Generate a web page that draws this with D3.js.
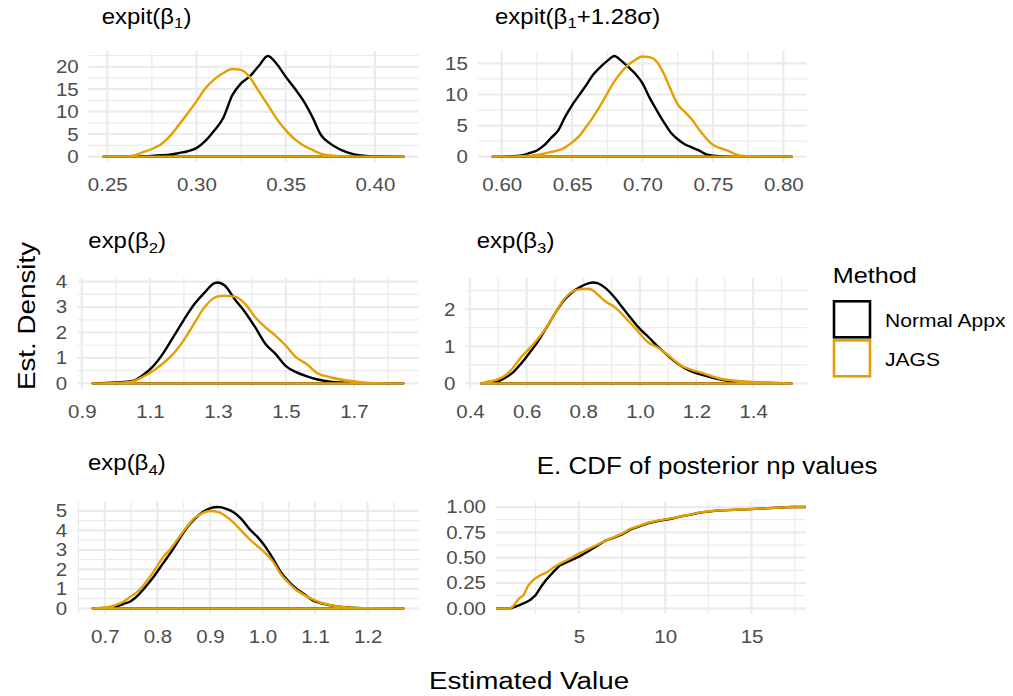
<!DOCTYPE html>
<html>
<head>
<meta charset="utf-8">
<script src="https://cdn.jsdelivr.net/npm/d3@7"></script>
<style>
  body { margin: 0; background: #ffffff; }
  svg { display: block; font-family: "Liberation Sans", Arial, Helvetica, sans-serif; }
</style>
</head>
<body>
<div id="chart"></div>
<script>

// ---- values ----
var method_names  = ['Normal Appx', 'JAGS'];
var method_colors = ['#000000', '#E69F00'];

// expit(beta1)
var b1_x      = [0.248, 0.26, 0.265, 0.27, 0.275, 0.28, 0.285, 0.29, 0.295, 0.30, 0.305, 0.31, 0.315, 0.32, 0.325, 0.33,
                 0.335, 0.34, 0.345, 0.35, 0.355, 0.36, 0.365, 0.37, 0.375, 0.38, 0.385, 0.39, 0.395, 0.40, 0.405, 0.416];
var b1_normal = [0, 0.02, 0.05, 0.1, 0.18, 0.3, 0.45, 0.8, 1.2, 1.9, 3.5, 5.8, 8.6, 13.6, 16.3, 17.9,
                 20.2, 22.4, 20.6, 17.8, 15.2, 12.4, 8.8, 4.7, 2.9, 1.7, 0.9, 0.4, 0.15, 0.06, 0.02, 0];
var b1_jags   = [0, 0.03, 0.3, 1.0, 1.7, 2.7, 4.5, 7.0, 9.6, 12.3, 15.2, 17.2, 18.6, 19.5, 19.3, 17.6,
                 14.5, 11.5, 8.4, 5.9, 3.9, 2.5, 1.5, 0.6, 0.25, 0.1, 0.04, 0.01, 0, 0, 0, 0];
var b1_ticks  = [0.25, 0.30, 0.35, 0.40];
var b1_yticks = [0, 5, 10, 15, 20];

// expit(beta1 + 1.28 sigma)
var b1s_x      = [0.5936, 0.605, 0.615, 0.62, 0.625, 0.63, 0.635, 0.64, 0.645, 0.65, 0.655, 0.66, 0.665, 0.67, 0.675, 0.68,
                  0.685, 0.69, 0.695, 0.70, 0.705, 0.71, 0.715, 0.72, 0.725, 0.73, 0.735, 0.74, 0.745, 0.75, 0.755, 0.76,
                  0.765, 0.77, 0.775, 0.78, 0.79, 0.806];
var b1s_normal = [0, 0.05, 0.25, 0.6, 1.0, 1.8, 3.0, 4.2, 6.4, 8.3, 9.9, 11.5, 13.2, 14.4, 15.4, 16.2,
                  15.4, 14.4, 13.3, 11.8, 9.5, 7.5, 5.6, 3.9, 2.8, 2.0, 1.5, 1.0, 0.4, 0.17, 0.06, 0.02,
                  0.01, 0, 0, 0, 0, 0];
var b1s_jags   = [0, 0.01, 0.07, 0.15, 0.27, 0.5, 0.75, 1.0, 1.5, 2.3, 3.3, 4.8, 6.4, 8.2, 10.2, 12.1,
                  13.6, 14.8, 15.6, 16.1, 16.0, 15.3, 13.4, 10.8, 8.4, 7.2, 6.0, 4.4, 3.0, 1.9, 1.4, 1.0,
                  0.5, 0.15, 0.05, 0.02, 0, 0];
var b1s_ticks  = [0.60, 0.65, 0.70, 0.75, 0.80];
var b1s_yticks = [0, 5, 10, 15];

// exp(beta2)
var b2_x      = [0.932, 1.0, 1.05, 1.08, 1.11, 1.14, 1.17, 1.2, 1.23, 1.26, 1.29, 1.30, 1.32, 1.35,
                 1.38, 1.41, 1.44, 1.47, 1.5, 1.53, 1.56, 1.59, 1.63, 1.67, 1.72, 1.77, 1.845];
var b2_normal = [0, 0.04, 0.1, 0.33, 0.68, 1.2, 1.85, 2.5, 3.1, 3.56, 3.94, 3.97, 3.85, 3.3,
                 2.8, 2.2, 1.55, 1.15, 0.68, 0.44, 0.28, 0.16, 0.07, 0.03, 0.01, 0, 0];
var b2_jags   = [0, 0.02, 0.08, 0.26, 0.5, 0.8, 1.18, 1.7, 2.35, 2.98, 3.37, 3.42, 3.44, 3.41,
                 3.13, 2.6, 2.2, 1.87, 1.48, 1.02, 0.77, 0.42, 0.24, 0.13, 0.05, 0.01, 0];
var b2_ticks  = [0.9, 1.1, 1.3, 1.5, 1.7];
var b2_yticks = [0, 1, 2, 3, 4];

// exp(beta3)
var b3_x      = [0.439, 0.46, 0.49, 0.52, 0.55, 0.58, 0.61, 0.64, 0.67, 0.70, 0.73, 0.76, 0.79, 0.82, 0.835, 0.85, 0.88,
                 0.91, 0.94, 0.97, 1.0, 1.03, 1.06, 1.09, 1.12, 1.15, 1.18, 1.22, 1.28, 1.34, 1.40, 1.46, 1.536];
var b3_normal = [0, 0.01, 0.03, 0.13, 0.28, 0.53, 0.82, 1.13, 1.5, 1.88, 2.22, 2.45, 2.6, 2.7, 2.72, 2.7, 2.56,
                 2.32, 2.03, 1.74, 1.47, 1.25, 1.02, 0.81, 0.61, 0.45, 0.33, 0.23, 0.11, 0.04, 0.02, 0.01, 0];
var b3_jags   = [0, 0.04, 0.09, 0.19, 0.4, 0.7, 0.94, 1.2, 1.51, 1.88, 2.25, 2.47, 2.54, 2.55, 2.5, 2.4, 2.2,
                 2.06, 1.84, 1.6, 1.34, 1.1, 0.98, 0.82, 0.63, 0.46, 0.37, 0.28, 0.13, 0.07, 0.04, 0.02, 0];
var b3_ticks  = [0.4, 0.6, 0.8, 1.0, 1.2, 1.4];
var b3_yticks = [0, 1, 2];

// exp(beta4)
var b4_x      = [0.677, 0.70, 0.71, 0.72, 0.735, 0.75, 0.765, 0.78, 0.795, 0.81, 0.825, 0.84, 0.855, 0.87, 0.885, 0.90, 0.915,
                 0.93, 0.945, 0.96, 0.975, 0.99, 1.005, 1.02, 1.035, 1.05, 1.065, 1.08, 1.095, 1.11, 1.13, 1.16, 1.2, 1.268];
var b4_normal = [0, 0.02, 0.05, 0.1, 0.22, 0.38, 0.72, 1.18, 1.7, 2.28, 2.85, 3.48, 4.1, 4.56, 4.92, 5.13, 5.2,
                 5.12, 4.93, 4.58, 4.08, 3.68, 3.18, 2.55, 1.85, 1.38, 1.0, 0.72, 0.42, 0.27, 0.15, 0.05, 0.01, 0];
var b4_jags   = [0, 0.04, 0.09, 0.17, 0.34, 0.62, 0.92, 1.4, 1.98, 2.6, 3.05, 3.6, 4.15, 4.62, 4.88, 5.0, 4.95,
                 4.73, 4.4, 3.98, 3.56, 3.2, 2.85, 2.4, 1.75, 1.3, 0.93, 0.68, 0.47, 0.3, 0.16, 0.05, 0.01, 0];
var b4_ticks  = [0.7, 0.8, 0.9, 1.0, 1.1, 1.2];
var b4_yticks = [0, 1, 2, 3, 4, 5];

// empirical CDF of posterior np values
var ecdf_x_normal = [1.02, 1.3, 1.6, 2.0, 2.2, 2.5, 2.8, 3.1, 3.5, 3.9, 4.5, 5.0, 5.5, 6.0, 6.5, 7.0,
                     7.5, 8.0, 8.5, 9.0, 9.5, 10.0, 10.5, 11.0, 11.5, 12.0, 13.0, 14.0, 15.0, 16.0, 17.32];
var ecdf_normal   = [0, 0.015, 0.035, 0.065, 0.085, 0.13, 0.21, 0.28, 0.355, 0.425, 0.47, 0.51, 0.56, 0.61, 0.665, 0.695,
                     0.73, 0.78, 0.81, 0.84, 0.86, 0.875, 0.89, 0.91, 0.925, 0.945, 0.965, 0.972, 0.98, 0.99, 1.0];
var ecdf_x_jags   = [1.02, 1.2, 1.5, 1.8, 2.05, 2.35, 2.7, 3.2, 3.5, 3.9, 4.3, 5.0, 5.8, 6.6, 7.0,
                     7.5, 8.0, 8.5, 9.0, 9.5, 10.0, 10.5, 11.0, 11.5, 12.0, 13.0, 14.0, 15.0, 16.0, 17.32];
var ecdf_jags     = [0, 0.02, 0.09, 0.13, 0.22, 0.28, 0.32, 0.36, 0.40, 0.44, 0.475, 0.54, 0.606, 0.672, 0.70,
                     0.737, 0.787, 0.815, 0.845, 0.863, 0.878, 0.893, 0.912, 0.928, 0.948, 0.966, 0.973, 0.981, 0.99, 1.0];
var ecdf_ticks    = [5, 10, 15];
var ecdf_yticks   = [0, 0.25, 0.50, 0.75, 1.00];

// ---- layout (pixels) ----
var chart_width  = 1013;
var chart_height = 696;
var grid_color   = '#EBEBEB';
var text_grey    = '#4D4D4D';
var line_width   = 2.4;
var stretch_x    = 1.12; // the original text is a bit wider than Liberation Sans, so widen it a little
var tick_size    = 18.3;

// the whole figure is 6 small plots glued together, each one gets its own box
var panels = [
    { kind: 'density', title: [['expit(β'], ['1', true], [')']],
      x: b1_x, series: [b1_normal, b1_jags], xticks: b1_ticks, yticks: b1_yticks, xfmt: '.2f', yfmt: 'd',
      left: 88.7, right: 418.4, top: 50.9, bottom: 161.7, title_x: 101.7, title_y: 23.5, title_size: 21.4 },
    { kind: 'density', title: [['expit(β'], ['1', true], ['+1.28σ)']],
      x: b1s_x, series: [b1s_normal, b1s_jags], xticks: b1s_ticks, yticks: b1s_yticks, xfmt: '.2f', yfmt: 'd',
      left: 477.8, right: 806.7, top: 50.9, bottom: 161.7, title_x: 495, title_y: 23.5, title_size: 21.4 },
    { kind: 'density', title: [['exp(β'], ['2', true], [')']],
      x: b2_x, series: [b2_normal, b2_jags], xticks: b2_ticks, yticks: b2_yticks, xfmt: '.1f', yfmt: 'd',
      left: 77.2, right: 418.8, top: 277.4, bottom: 388.4, title_x: 88.3, title_y: 248.3, title_size: 21.4 },
    { kind: 'density', title: [['exp(β'], ['3', true], [')']],
      x: b3_x, series: [b3_normal, b3_jags], xticks: b3_ticks, yticks: b3_yticks, xfmt: '.1f', yfmt: 'd',
      left: 465.5, right: 807.2, top: 277.4, bottom: 388.4, title_x: 476.7, title_y: 248.3, title_size: 21.4 },
    { kind: 'density', title: [['exp(β'], ['4', true], [')']],
      x: b4_x, series: [b4_normal, b4_jags], xticks: b4_ticks, yticks: b4_yticks, xfmt: '.1f', yfmt: 'd',
      left: 77.2, right: 418.9, top: 502.0, bottom: 613.4, title_x: 88, title_y: 470, title_size: 21.4 },
    { kind: 'ecdf', title: [['E. CDF of posterior np values']],
      xs: [ecdf_x_normal, ecdf_x_jags], series: [ecdf_normal, ecdf_jags], xticks: ecdf_ticks, yticks: ecdf_yticks,
      xfmt: 'd', yfmt: '.2f',
      left: 496, right: 805.7, top: 502.0, bottom: 613.4, title_x: 536.7, title_y: 474, title_size: 23.2 }
];

// ggplot style 5% padding on both sides of a range
function expand(ext) {
    var r = ext[1] - ext[0];
    return [ext[0] - 0.05 * r, ext[1] + 0.05 * r];
}

// minor grid sits half way between the major breaks (and one step past the ends)
function minor_breaks(ticks, domain) {
    var step = ticks[1] - ticks[0];
    var out = [];
    for (var i = -1; i < ticks.length; i++) {
        var v = ticks[0] + step * (i + 0.5);
        if (v >= domain[0] && v <= domain[1]) out.push(v);
    }
    return out;
}

// text placed at (x, y) and widened along its reading direction
function add_text(parent, x, y, size, str, extra_transform) {
    return parent.append('text')
        .attr('transform', 'translate(' + x + ',' + y + ')' + (extra_transform || '') + ' scale(' + stretch_x + ',1)')
        .attr('font-size', size + 'px')
        .attr('fill', '#000')
        .text(str);
}

// same widening for the labels d3's axis made
function stretch_axis_text(sel) {
    sel.each(function() {
        var t = d3.select(this);
        var x = +t.attr('x') || 0;
        t.attr('x', x / stretch_x).attr('transform', 'scale(' + stretch_x + ',1)');
    });
}

function draw_panel(svg, p) {
    var g = svg.append('g');

    var x_domain, y_domain;
    if (p.kind === 'density') {
        x_domain = expand(d3.extent(p.x));
        var y_max = d3.max(p.series, function(s) { return d3.max(s); });
        y_domain = expand([0, y_max]);
    } else {
        x_domain = expand(d3.extent(p.xs[0].concat(p.xs[1])));
        y_domain = expand([0, 1]);
    }

    var x_scale = d3.scaleLinear().domain(x_domain).range([p.left, p.right]);
    var y_scale = d3.scaleLinear().domain(y_domain).range([p.bottom, p.top]);

    // grid: minor first, major on top
    var grid = g.append('g').attr('stroke', grid_color).attr('fill', 'none');
    minor_breaks(p.xticks, x_domain).forEach(function(v) {
        grid.append('line').attr('x1', x_scale(v)).attr('x2', x_scale(v))
            .attr('y1', p.top).attr('y2', p.bottom).attr('stroke-width', 1.2);
    });
    minor_breaks(p.yticks, y_domain).forEach(function(v) {
        grid.append('line').attr('x1', p.left).attr('x2', p.right)
            .attr('y1', y_scale(v)).attr('y2', y_scale(v)).attr('stroke-width', 1.2);
    });
    p.xticks.forEach(function(v) {
        grid.append('line').attr('x1', x_scale(v)).attr('x2', x_scale(v))
            .attr('y1', p.top).attr('y2', p.bottom).attr('stroke-width', 2.2);
    });
    p.yticks.forEach(function(v) {
        grid.append('line').attr('x1', p.left).attr('x2', p.right)
            .attr('y1', y_scale(v)).attr('y2', y_scale(v)).attr('stroke-width', 2.2);
    });

    // the curves, Normal Appx first so JAGS ends up on top
    p.series.forEach(function(vals, i) {
        var path;
        if (p.kind === 'density') {
            var pts = p.x.map(function(xv, j) { return [xv, vals[j]]; });
            // outline of the density polygon, baseline included (like geom_density with no fill)
            path = d3.area()
                .curve(d3.curveMonotoneX)
                .x(function(d) { return x_scale(d[0]); })
                .y0(y_scale(0))
                .y1(function(d) { return y_scale(d[1]); })(pts);
        } else {
            var xs = p.xs[i];
            var pts = [[x_domain[0], 0]].concat(xs.map(function(xv, j) { return [xv, vals[j]]; }));
            pts.push([x_domain[1], 1]);
            path = d3.line()
                .x(function(d) { return x_scale(d[0]); })
                .y(function(d) { return y_scale(d[1]); })(pts);
        }
        g.append('path')
            .attr('d', path)
            .attr('fill', 'none')
            .attr('stroke', method_colors[i])
            .attr('stroke-width', line_width)
            .attr('stroke-linejoin', 'round');
    });

    // axes (no ticks, no axis line, like theme_minimal)
    var x_axis = d3.axisBottom(x_scale).tickValues(p.xticks).tickFormat(d3.format(p.xfmt))
        .tickSize(0).tickPadding(16.5);
    var xg = g.append('g').attr('transform', 'translate(0,' + p.bottom + ')').call(x_axis);
    xg.select('.domain').remove();
    xg.selectAll('text').attr('fill', text_grey).attr('font-size', tick_size + 'px')
        .attr('font-family', '"Liberation Sans", Arial, sans-serif');
    stretch_axis_text(xg.selectAll('text'));

    var y_axis = d3.axisLeft(y_scale).tickValues(p.yticks).tickFormat(d3.format(p.yfmt))
        .tickSize(0).tickPadding(10);
    var yg = g.append('g').attr('transform', 'translate(' + p.left + ',0)').call(y_axis);
    yg.select('.domain').remove();
    yg.selectAll('text').attr('fill', text_grey).attr('font-size', tick_size + 'px')
        .attr('font-family', '"Liberation Sans", Arial, sans-serif');
    stretch_axis_text(yg.selectAll('text'));

    // title, with a plotmath-ish subscript
    var title = add_text(g, p.title_x, p.title_y, p.title_size, null);
    p.title.forEach(function(part, k) {
        var t = title.append('tspan').text(part[0]);
        if (part[1]) {
            t.attr('font-size', (p.title_size * 0.7) + 'px').attr('dy', 4.5);
        } else if (k > 0) {
            t.attr('dy', -4.5);
        }
    });
}

var svg = d3.select('#chart')
    .append('svg')
    .attr('width', chart_width)
    .attr('height', chart_height);

svg.append('rect').attr('width', chart_width).attr('height', chart_height).attr('fill', '#fff');

panels.forEach(function(p) { draw_panel(svg, p); });

// shared axis titles
add_text(svg, 35, 316, 24.8, 'Est. Density', ' rotate(-90)').attr('text-anchor', 'middle');
add_text(svg, 529, 689, 24.8, 'Estimated Value').attr('text-anchor', 'middle');

// legend
var legend = svg.append('g');
add_text(legend, 832.7, 283, 22.5, 'Method');

method_names.forEach(function(name, i) {
    var key_top = 300 + i * 39;
    legend.append('rect')
        .attr('x', 834)
        .attr('y', key_top + 1.3)
        .attr('width', 36)
        .attr('height', 36)
        .attr('fill', '#fff')
        .attr('stroke', method_colors[i])
        .attr('stroke-width', 2.6);
    add_text(legend, 885, key_top + 27, 18.8, name);
});

</script>
</body>
</html>
